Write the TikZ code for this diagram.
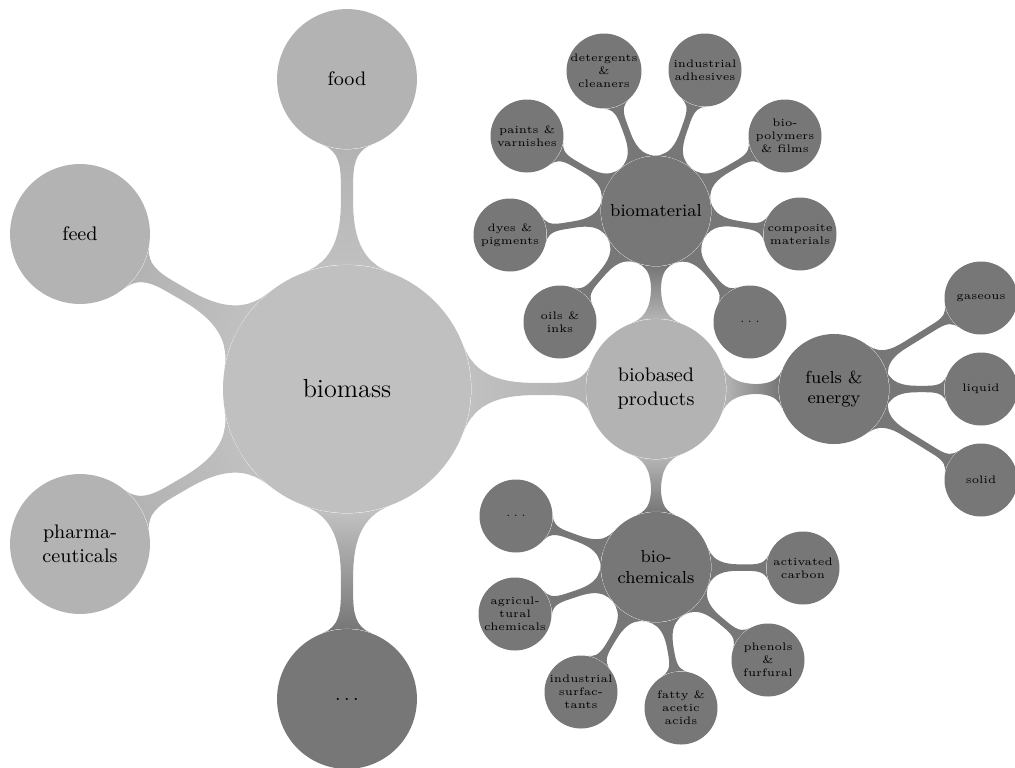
\documentclass[tikz,border=0pt]{standalone}
\usetikzlibrary{mindmap,backgrounds}
\definecolor{rootc}{HTML}{C0C0C0}
\definecolor{lightc}{HTML}{B3B3B3}
\definecolor{darkc}{HTML}{777777}
\begin{document}
\begin{tikzpicture}[x=0.4589pt,y=-0.4589pt,
  cpt/.style={circle,inner sep=0pt,align=center,text=black},
  rootcpt/.style={cpt,fill=rootc,minimum size=113.8pt,font=\large},
  lone/.style={cpt,fill=lightc,minimum size=64.2pt,font=\small},
  lonedark/.style={cpt,fill=darkc,minimum size=64.2pt,font=\small},
  ltwo/.style={cpt,fill=darkc,minimum size=50.5pt,font=\footnotesize},
  leaf/.style={cpt,fill=darkc,minimum size=33.5pt,font=\tiny},
  cb/.style n args={5}{circle connection bar switch color=from (#1) to (#2),
    decoration={start radius=#3,end radius=#4,amplitude=#5}},
  rootlink/.style={cb={rootc}{#1}{56.9pt}{32.1pt}{2.4pt}},
  midlink/.style={cb={lightc}{darkc}{32.1pt}{25.25pt}{2.1pt}},
  leaflink/.style={cb={darkc}{darkc}{25.25pt}{16.75pt}{1.5pt}}
]
\useasboundingbox (0,0) rectangle (1015,767);
% level 0 and 1
\node[rootcpt] (bio) at (347,389) {biomass};
\node[lone] (food) at (347,79) {food};
\node[lone] (feed) at (80,234) {feed};
\node[lone] (pharma) at (80,544) {pharma-\\ceuticals};
\node[lonedark] (more) at (347,699) {$\dots$};
\node[lone] (bp) at (656,389) {biobased\\products};
% level 2
\node[ltwo] (mat) at (656,211) {biomaterial};
\node[ltwo] (fuel) at (834,389) {fuels \&\\energy};
\node[ltwo] (chem) at (656,567) {bio-\\chemicals};
% biomaterial leaves
\node[leaf] (paint) at (527,136) {paints \&\\varnishes};
\node[leaf] (deter) at (604,71) {detergents\\\&\\cleaners};
\node[leaf] (adhes) at (705,70) {industrial\\adhesives};
\node[leaf] (poly) at (785,136) {bio-\\polymers\\\& films};
\node[leaf] (compo) at (800,234) {composite\\materials};
\node[leaf] (matmore) at (750,322) {$\dots$};
\node[leaf] (oils) at (560,322) {oils \&\\inks};
\node[leaf] (dyes) at (510,235) {dyes \&\\pigments};
% fuel leaves
\node[leaf] (gas) at (981,298) {gaseous};
\node[leaf] (liq) at (981,389) {liquid};
\node[leaf] (sol) at (981,480) {solid};
% chemical leaves
\node[leaf] (chemmore) at (516,516) {$\dots$};
\node[leaf] (agri) at (515,614) {agricul-\\tural\\chemicals};
\node[leaf] (surf) at (581,692) {industrial\\surfac-\\tants};
\node[leaf] (fatty) at (681,708) {fatty \&\\acetic\\acids};
\node[leaf] (phen) at (768,660) {phenols\\\&\\furfural};
\node[leaf] (carb) at (803,568) {activated\\carbon};
\begin{pgfonlayer}{background}
\path (bio) to[rootlink=lightc] (food);
\path (bio) to[rootlink=lightc] (feed);
\path (bio) to[rootlink=lightc] (pharma);
\path (bio) to[rootlink=darkc] (more);
\path (bio) to[rootlink=lightc] (bp);
\path (bp) to[midlink] (mat);
\path (bp) to[midlink] (fuel);
\path (bp) to[midlink] (chem);
\foreach \x in {paint,deter,adhes,poly,compo,matmore,oils,dyes}
  \path (mat) to[leaflink] (\x);
\foreach \x in {gas,liq,sol}
  \path (fuel) to[leaflink] (\x);
\foreach \x in {chemmore,agri,surf,fatty,phen,carb}
  \path (chem) to[leaflink] (\x);
\end{pgfonlayer}
\end{tikzpicture}
\end{document}
